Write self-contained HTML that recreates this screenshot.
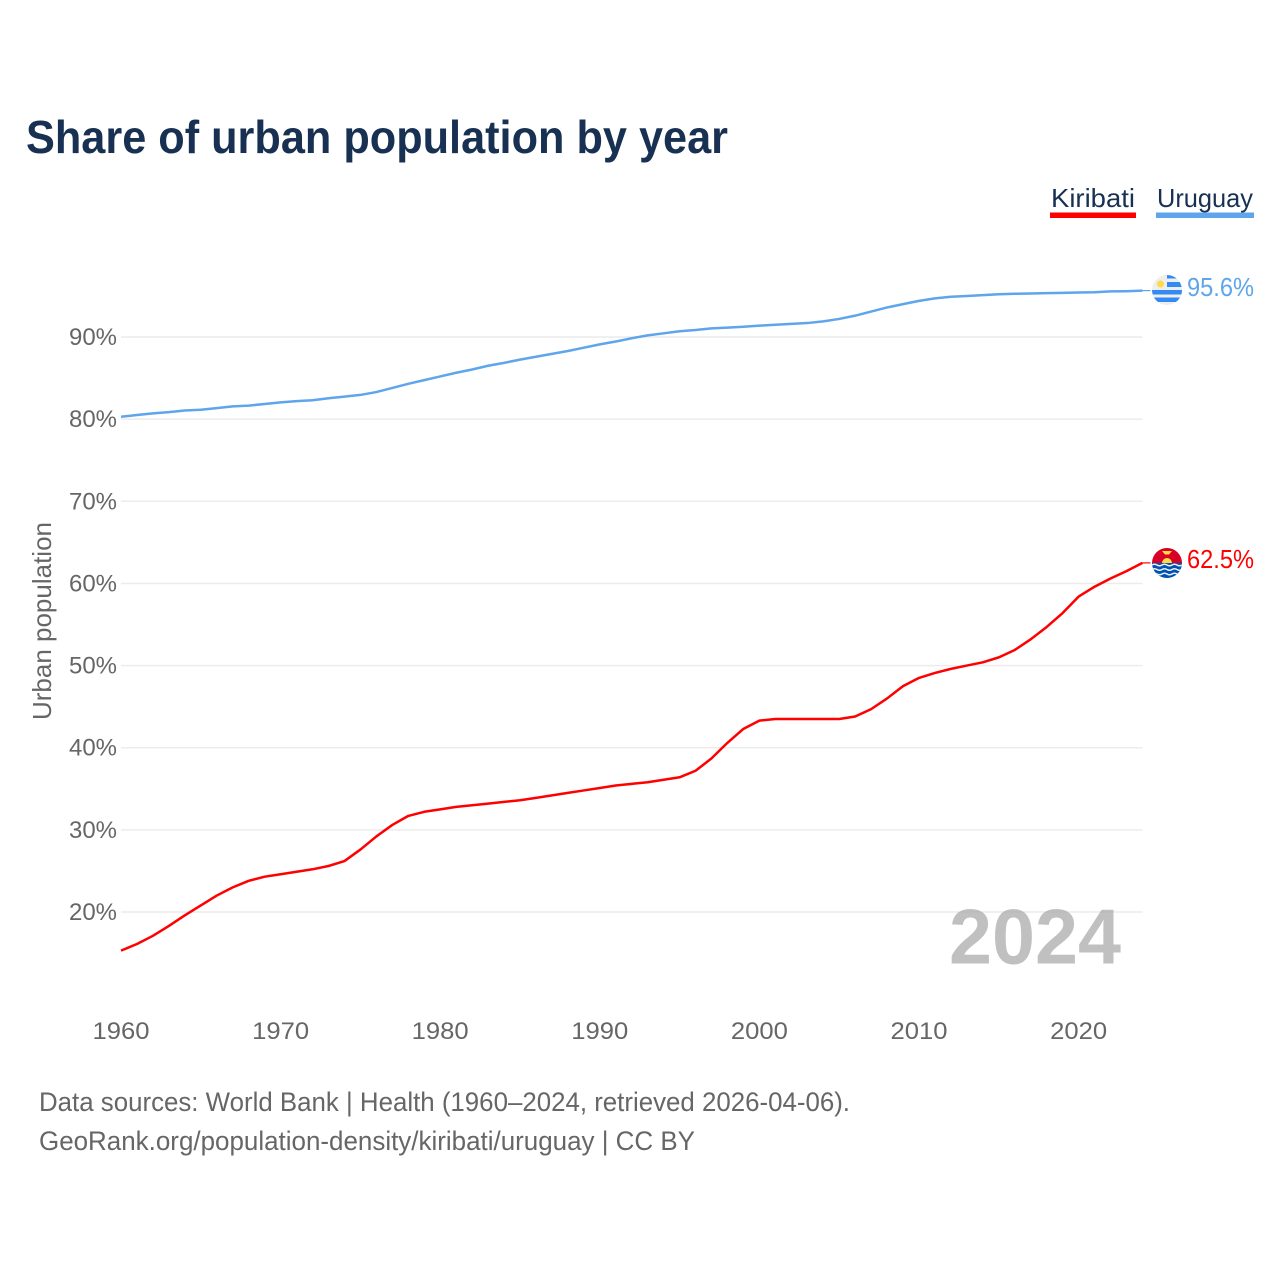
<!DOCTYPE html>
<html lang="en">
<head>
<meta charset="utf-8">
<title>Share of urban population by year</title>
<style>
html,body{margin:0;padding:0;background:#fff;}
svg{display:block;}
text{font-family:"Liberation Sans",sans-serif;}
</style>
</head>
<body>
<svg id="chart" xmlns="http://www.w3.org/2000/svg" width="1280" height="1280" viewBox="0 0 1280 1280">
  <defs>
    <clipPath id="uy-clip"><circle cx="1167" cy="290" r="15"/></clipPath>
    <clipPath id="ki-clip"><circle cx="1167" cy="563" r="15"/></clipPath>
  </defs>
  <rect width="1280" height="1280" fill="#ffffff"/>
  <text x="26" y="153" font-size="46" font-weight="700" fill="#183153" textLength="702" lengthAdjust="spacingAndGlyphs">Share of urban population by year</text>

  <g>
    <g>
      <text x="1051" y="207" font-size="26" fill="#183153" textLength="84" lengthAdjust="spacingAndGlyphs">Kiribati</text>
      <rect x="1050" y="212.5" width="86" height="5.5" fill="#ff0000"/>
    </g>
    <g>
      <text x="1157" y="207" font-size="26" fill="#183153" textLength="96" lengthAdjust="spacingAndGlyphs">Uruguay</text>
      <rect x="1156" y="212.5" width="98" height="5.5" fill="#5fa5ec"/>
    </g>
  </g>

  <g id="grid"></g>
  <g id="y-ticks"></g>
  <g id="x-ticks"></g>
  <text transform="translate(51,720) rotate(-90)" font-size="26" fill="#666666" textLength="198" lengthAdjust="spacingAndGlyphs">Urban population</text>

  <text x="949" y="963.500" font-size="78" font-weight="700" fill="#a8a8a8" fill-opacity="0.72" textLength="172" lengthAdjust="spacingAndGlyphs">2024</text>

  <g id="series"></g>

  <g clip-path="url(#uy-clip)">
    <rect x="1152" y="275" width="30" height="30" fill="#eeeeee"/>
    <rect x="1167" y="275" width="15" height="3.500" fill="#338af3"/>
    <rect x="1167" y="282" width="15" height="5" fill="#338af3"/>
    <rect x="1152" y="290" width="30" height="4.500" fill="#338af3"/>
    <rect x="1152" y="297.500" width="30" height="4.500" fill="#338af3"/>
    <circle cx="1160.500" cy="284" r="3.500" fill="#ffda44"/>
  </g>
  <text x="1187" y="296" font-size="26" fill="#5fa5ec" textLength="67" lengthAdjust="spacingAndGlyphs">95.6%</text>

  <g clip-path="url(#ki-clip)">
    <rect x="1152" y="548" width="30" height="16" fill="#d80027"/>
    <rect x="1152" y="563" width="30" height="15" fill="#0052b4"/>
    <path d="M1162 563a5 5 0 0 1 10 0z" fill="#ffda44"/>
    <path d="M1162 551h10l-3 3.500h-4z" fill="#ffda44"/>
    <path d="M1152 565q2.500-1.600 5 0t5 0t5 0t5 0t5 0t5 0M1152 569.500q2.500-1.600 5 0t5 0t5 0t5 0t5 0t5 0M1152 574q2.500-1.600 5 0t5 0t5 0t5 0t5 0t5 0" fill="none" stroke="#f0f0f0" stroke-width="1.500"/>
  </g>
  <text x="1187" y="568" font-size="26" fill="#ff0000" textLength="67" lengthAdjust="spacingAndGlyphs">62.5%</text>

  <text x="39" y="1111" font-size="27" fill="#666666" textLength="811" lengthAdjust="spacingAndGlyphs">Data sources: World Bank | Health (1960–2024, retrieved 2026-04-06).</text>
  <text x="39" y="1150" font-size="27" fill="#666666" textLength="656" lengthAdjust="spacingAndGlyphs">GeoRank.org/population-density/kiribati/uruguay | CC BY</text>
</svg>
<script>
const startYear = 1960;
const yTickValues = [20, 30, 40, 50, 60, 70, 80, 90];
const xTickYears = [1960, 1970, 1980, 1990, 2000, 2010, 2020];
const kiribatiValues = [15.3, 16.1, 17.1, 18.3, 19.6, 20.8, 22.0, 23.0, 23.8, 24.3, 24.6, 24.9, 25.2, 25.6, 26.2, 27.6, 29.2, 30.6, 31.7, 32.2, 32.5, 32.8, 33.0, 33.2, 33.4, 33.6, 33.9, 34.2, 34.5, 34.8, 35.1, 35.4, 35.6, 35.8, 36.1, 36.4, 37.2, 38.7, 40.6, 42.3, 43.3, 43.5, 43.5, 43.5, 43.5, 43.5, 43.8, 44.7, 46.0, 47.5, 48.5, 49.1, 49.6, 50.0, 50.4, 51.0, 51.9, 53.2, 54.7, 56.4, 58.4, 59.6, 60.6, 61.5, 62.5];
const uruguayValues = [80.3, 80.5, 80.7, 80.85, 81.05, 81.15, 81.35, 81.55, 81.65, 81.85, 82.05, 82.2, 82.3, 82.55, 82.75, 82.95, 83.3, 83.8, 84.3, 84.75, 85.2, 85.65, 86.05, 86.5, 86.85, 87.25, 87.6, 87.95, 88.3, 88.7, 89.1, 89.45, 89.85, 90.2, 90.45, 90.7, 90.85, 91.05, 91.15, 91.25, 91.38, 91.5, 91.6, 91.7, 91.9, 92.2, 92.6, 93.1, 93.6, 94.0, 94.4, 94.7, 94.9, 95.0, 95.1, 95.2, 95.27, 95.3, 95.35, 95.37, 95.42, 95.45, 95.55, 95.58, 95.65];

const NS = 'http://www.w3.org/2000/svg';
function xScale(year) { return 121 + (year - 1960) * 15.96; }
function yScale(value) { return 912 - (value - 20) * 8.214; }

const gridGroup = document.getElementById('grid');
const yTickGroup = document.getElementById('y-ticks');
const xTickGroup = document.getElementById('x-ticks');
const seriesGroup = document.getElementById('series');
const plotRight = xScale(2024);

yTickValues.forEach(function (value) {
  const line = document.createElementNS(NS, 'line');
  
  
  line.setAttribute('x1', 121);
  line.setAttribute('x2', plotRight);
  line.setAttribute('y1', yScale(value));
  line.setAttribute('y2', yScale(value));
  line.setAttribute('stroke', '#ececec');
  line.setAttribute('stroke-width', '1.5');
  gridGroup.appendChild(line);

  const label = document.createElementNS(NS, 'text');
  
  
  label.setAttribute('x', 69);
  label.setAttribute('y', yScale(value) + 8);
  label.setAttribute('font-size', '24');
  label.setAttribute('fill', '#666666');
  label.setAttribute('textLength', '48');
  label.setAttribute('lengthAdjust', 'spacingAndGlyphs');
  label.textContent = value + '%';
  yTickGroup.appendChild(label);
});

xTickYears.forEach(function (year) {
  const label = document.createElementNS(NS, 'text');
  
  
  label.setAttribute('x', xScale(year) - 28.5);
  label.setAttribute('y', 1039);
  label.setAttribute('font-size', '24');
  label.setAttribute('fill', '#666666');
  label.setAttribute('textLength', '57');
  label.setAttribute('lengthAdjust', 'spacingAndGlyphs');
  label.textContent = year;
  xTickGroup.appendChild(label);
});

function pathFor(values) {
  const points = values.map(function (value, i) {
    return xScale(startYear + i).toFixed(2) + ',' + yScale(value).toFixed(2);
  });
  return 'M' + points.join('L');
}

const kiribatiLine = document.createElementNS(NS, 'path');


kiribatiLine.setAttribute('d', pathFor(kiribatiValues));
kiribatiLine.setAttribute('fill', 'none');
kiribatiLine.setAttribute('stroke', '#ff0000');
kiribatiLine.setAttribute('stroke-width', '2.500');
kiribatiLine.setAttribute('stroke-linejoin', 'round');
seriesGroup.appendChild(kiribatiLine);

const uruguayLine = document.createElementNS(NS, 'path');


uruguayLine.setAttribute('d', pathFor(uruguayValues));
uruguayLine.setAttribute('fill', 'none');
uruguayLine.setAttribute('stroke', '#5fa5ec');
uruguayLine.setAttribute('stroke-width', '2.500');
uruguayLine.setAttribute('stroke-linejoin', 'round');
seriesGroup.appendChild(uruguayLine);

const kiribatiConnector = document.createElementNS(NS, 'line');


kiribatiConnector.setAttribute('x1', plotRight);
kiribatiConnector.setAttribute('x2', plotRight + 8);
kiribatiConnector.setAttribute('y1', yScale(kiribatiValues[kiribatiValues.length - 1]));
kiribatiConnector.setAttribute('y2', yScale(kiribatiValues[kiribatiValues.length - 1]));
kiribatiConnector.setAttribute('stroke', '#ff0000');
kiribatiConnector.setAttribute('stroke-width', '1.2');
seriesGroup.appendChild(kiribatiConnector);

const uruguayConnector = document.createElementNS(NS, 'line');


uruguayConnector.setAttribute('x1', plotRight);
uruguayConnector.setAttribute('x2', plotRight + 8);
uruguayConnector.setAttribute('y1', yScale(uruguayValues[uruguayValues.length - 1]));
uruguayConnector.setAttribute('y2', yScale(uruguayValues[uruguayValues.length - 1]));
uruguayConnector.setAttribute('stroke', '#5fa5ec');
uruguayConnector.setAttribute('stroke-width', '1.2');
seriesGroup.appendChild(uruguayConnector);
</script>
</body>
</html>
